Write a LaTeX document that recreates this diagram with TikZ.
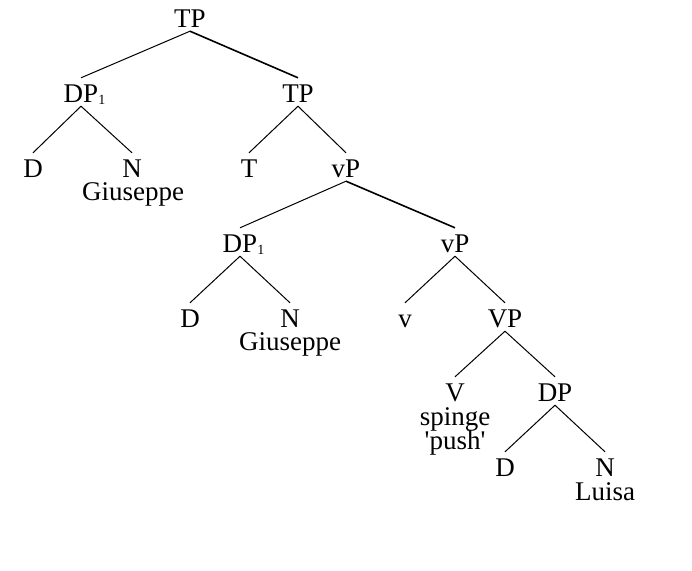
\documentclass[tikz,border=0pt]{standalone}
\usepackage{fontspec}
\setmainfont{Liberation Serif}
\newcommand{\subone}{\rlap{\raisebox{-2pt}{\fontsize{14}{14}\selectfont 1}}}
\newcommand{\br}[3][]{\draw[edge,#1] ([yshift=-4pt]#2.south) -- ([yshift=6pt]#3.north);}
\begin{document}
\begin{tikzpicture}[x=1pt,y=-1pt,
  cat/.style={anchor=base, inner sep=0pt, text height=18pt, text depth=0pt,
              font=\fontsize{27}{24}\selectfont},
  word/.style={anchor=base, inner sep=0pt, font=\fontsize{27}{24}\selectfont},
  edge/.style={line width=1pt},
  thick edge/.style={line width=1.6pt}]
\useasboundingbox[fill=white] (0,0) rectangle (692,570);
% row 0
\node[cat] (tp0) at (190,27) {TP};
% row 1
\node[cat] (dpa) at (81,102) {DP\subone};
\node[cat] (tp1) at (298,102) {TP};
% row 2
\node[cat] (da) at (33,177) {D};
\node[cat] (na) at (132,177) {N};
\node[word] (giua) at (133,200) {Giuseppe};
\node[cat] (t) at (249,177) {T};
\node[cat] (vp0) at (346,177) {vP};
% row 3
\node[cat] (dpb) at (240,252) {DP\subone};
\node[cat] (vp1) at (455,252) {vP};
% row 4
\node[cat] (db) at (190,327) {D};
\node[cat] (nb) at (290,327) {N};
\node[word] (giub) at (290,350) {Giuseppe};
\node[cat] (v) at (405,327) {v};
\node[cat] (vp) at (505,327) {VP};
% row 5
\node[cat] (vv) at (455,401) {V};
\node[word] (spinge) at (455,425) {spinge};
\node[word] (push) at (455,449) {\textquotesingle push\textquotesingle};
\node[cat] (dpc) at (555,401) {DP};
% row 6
\node[cat] (dc) at (505,476) {D};
\node[cat] (nc) at (605,476) {N};
\node[word] (luisa) at (605,500) {Luisa};
% edges
\br{tp0}{dpa}
\br[thick edge]{tp0}{tp1}
\br{dpa}{da}
\br{dpa}{na}
\br{tp1}{t}
\br{tp1}{vp0}
\br{vp0}{dpb}
\br[thick edge]{vp0}{vp1}
\br{dpb}{db}
\br{dpb}{nb}
\br{vp1}{v}
\br{vp1}{vp}
\br{vp}{vv}
\br{vp}{dpc}
\br{dpc}{dc}
\br{dpc}{nc}
\end{tikzpicture}
\end{document}
